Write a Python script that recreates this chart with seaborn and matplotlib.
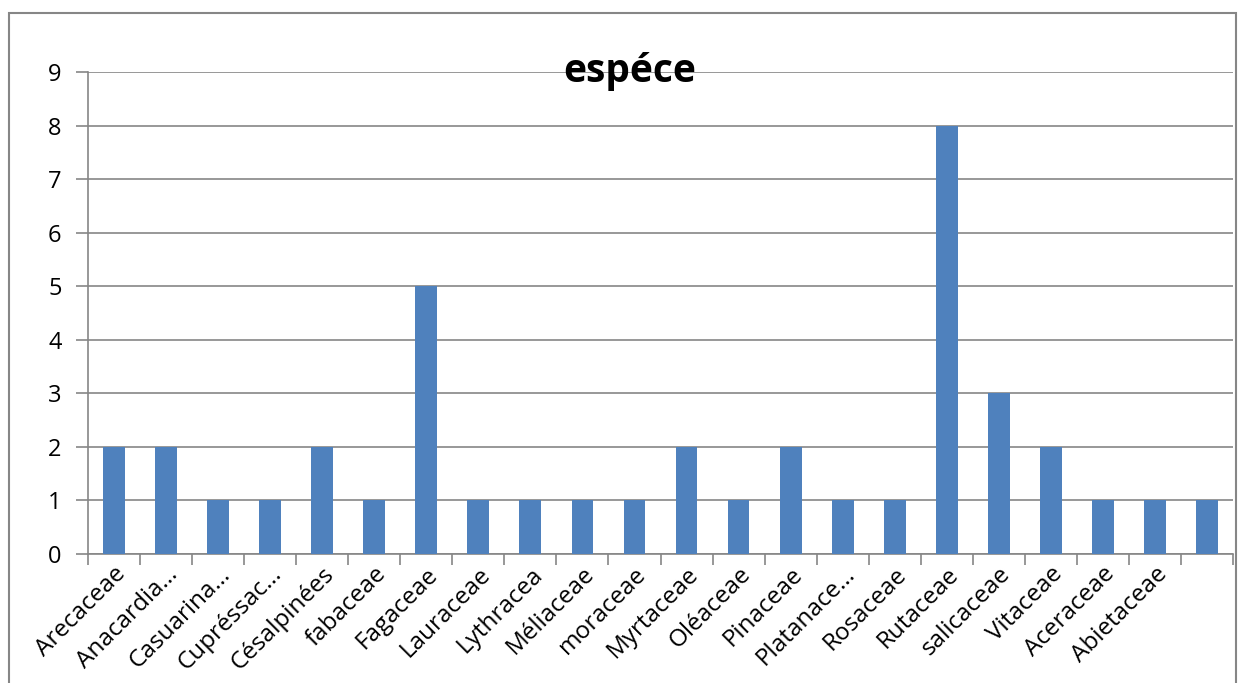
import matplotlib
matplotlib.use("Agg")
import matplotlib.pyplot as plt
import seaborn as sns
import pandas as pd
import numpy as np
from matplotlib.patches import Rectangle

# familles et nombre d'especes
familles = ["Arecaceae", "Anacardia…", "Casuarina…", "Cupréssac…", "Césalpinées",
            "fabaceae", "Fagaceae", "Lauraceae", "Lythracea", "Méliaceae",
            "moraceae", "Myrtaceae", "Oléaceae", "Pinaceae", "Platanace…",
            "Rosaceae", "Rutaceae", "salicaceae", "Vitaceae", "Aceraceae",
            "Abietaceae", ""]
especes = [2, 2, 1, 1, 2, 1, 5, 1, 1, 1, 1, 2, 1, 2, 1, 1, 8, 3, 2, 1, 1, 1]

df = pd.DataFrame({"famille": [f"c{i}" for i in range(len(familles))], "n": especes})

sns.set_style("white")
plt.rcParams["font.family"] = ["Open Sans", "DejaVu Sans"]

grey = "#868686"
fig = plt.figure(figsize=(12.42, 6.83), dpi=100)
ax = fig.add_axes([88 / 1242, 129 / 683, 1145 / 1242, 482 / 683])

sns.barplot(data=df, x="famille", y="n", color="#4f81bd", saturation=1,
            width=0.42, ax=ax, zorder=3, linewidth=0, edgecolor="none")

ax.set_ylim(0, 9)
ax.set_xlim(-0.5, len(familles) - 0.5)
ax.set_yticks(range(0, 10))
ax.yaxis.grid(True, color=grey, linewidth=1.2, zorder=0)
ax.set_axisbelow(True)

for s in ["top", "right"]:
    ax.spines[s].set_visible(False)
for s in ["left", "bottom"]:
    ax.spines[s].set_color(grey)
    ax.spines[s].set_linewidth(1.2)

ax.set_xticks(range(len(familles)))
ax.set_xticklabels(familles, rotation=45, ha="right", rotation_mode="anchor",
                   fontsize=17.5, color="black")
ax.tick_params(axis="x", which="major", length=0, pad=6)
ax.set_xticks(np.arange(-0.5, len(familles)), minor=True)
ax.tick_params(axis="x", which="minor", bottom=True, length=8, width=1.2, color=grey)
ax.tick_params(axis="y", left=True, length=9, width=1.2, color=grey,
               labelsize=17, labelcolor="black", pad=10)

ax.set_xlabel("")
ax.set_ylabel("")
ax.set_title("espéce", fontsize=28, fontweight="bold", color="black",
             x=0.473, y=0.962)

# cadre du graphique
fig.patches.append(Rectangle((9 / 1242, -0.05), 1227 / 1242, 1.05 - 13 / 683,
                             transform=fig.transFigure, fill=False,
                             edgecolor=grey, linewidth=1.5))

fig.savefig("out.png", dpi=100)
